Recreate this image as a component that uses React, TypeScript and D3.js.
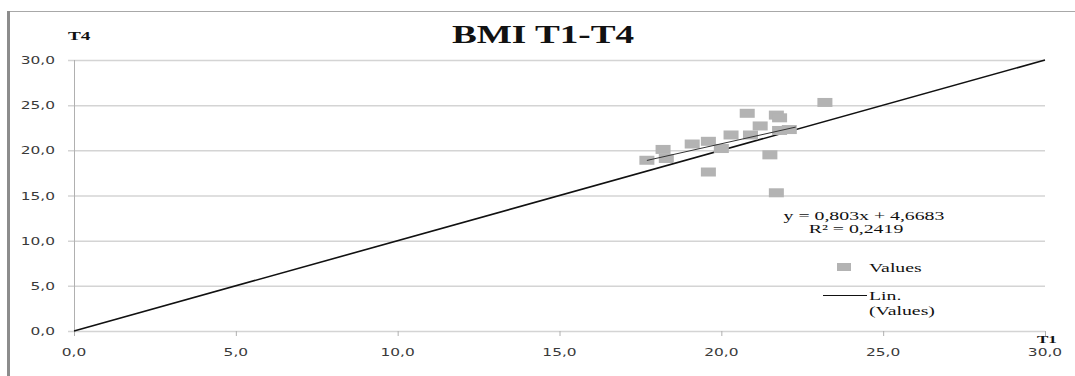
import * as d3 from "d3";

// BMI at T1 (x) and T4 (y)
const t1Values = [17.7, 18.2, 18.3, 19.1, 19.6, 20.0, 20.3, 19.6, 20.8, 21.2, 20.9, 21.7, 21.8, 21.8, 22.1, 21.5, 21.7, 23.2];
const t4Values = [18.9, 20.1, 19.1, 20.7, 21.0, 20.2, 21.7, 17.6, 24.1, 22.7, 21.7, 23.9, 23.6, 22.2, 22.3, 19.5, 15.3, 25.3];

const ticks = [0, 5, 10, 15, 20, 25, 30];
const identityLine = [0, 30];
const trendRange = [17.7, 22.3];
const trendSlope = 0.803;
const trendIntercept = 4.6683;

const title = "BMI T1-T4";
const equationText = "y = 0,803x + 4,6683";
const r2Text = "R² = 0,2419";

const fmt = (v: number) => v.toFixed(1).replace(".", ",");

export default function App() {
  const width = 1075;
  const height = 376;
  const x = d3.scaleLinear().domain([0, 30]).range([74, 1045]);
  const y = d3.scaleLinear().domain([0, 30]).range([331, 60]);

  const line = d3
    .line<number>()
    .x((d) => x(d))
    .y((d) => y(d));

  const trend = d3
    .line<number>()
    .x((d) => x(d))
    .y((d) => y(trendSlope * d + trendIntercept));

  const points = t1Values.map((v, i) => [v, t4Values[i]]);

  const sans = "DejaVu Sans";
  const serif = "Liberation Serif";
  const textColor = "#3a3a3a";

  return (
    <svg
      width={width}
      height={height}
      style={{ position: "absolute", left: 0, top: 0, background: "#fff" }}
    >
      {/* chart frame */}
      <line x1={8} x2={width} y1={11.5} y2={11.5} stroke="#a8a8a8" strokeWidth={1} />
      <line x1={8.5} x2={8.5} y1={11} y2={height} stroke="#8c8c8c" strokeWidth={3} />

      {/* title */}
      <text
        transform={`translate(543,43) scale(1.43,1)`}
        textAnchor="middle"
        fontFamily={serif}
        fontWeight="bold"
        fontSize={26}
        fill="#111"
      >
        {title}
      </text>

      {/* horizontal gridlines + y ticks */}
      {ticks.map((t) => (
        <g key={"gy" + t}>
          <line x1={68} x2={x(30)} y1={y(t) + 0.5} y2={y(t) + 0.5} stroke="#d4d4d4" strokeWidth={1.5} />
          <text
            transform={`translate(55,${y(t) + 4}) scale(1.4,1)`}
            textAnchor="end"
            fontFamily={sans}
            fontSize={11}
            fill={textColor}
          >
            {fmt(t)}
          </text>
        </g>
      ))}

      {/* y axis line */}
      <line x1={x(0) + 0.5} x2={x(0) + 0.5} y1={y(30)} y2={y(0)} stroke="#b0b0b0" strokeWidth={1} />

      {/* x ticks */}
      {ticks.map((t) => (
        <g key={"gx" + t}>
          <line x1={x(t) + 0.5} x2={x(t) + 0.5} y1={y(0)} y2={y(0) + 5} stroke="#b0b0b0" strokeWidth={1} />
          <text
            transform={`translate(${x(t)},356) scale(1.4,1)`}
            textAnchor="middle"
            fontFamily={sans}
            fontSize={11}
            fill={textColor}
          >
            {fmt(t)}
          </text>
        </g>
      ))}

      {/* axis titles */}
      <text transform="translate(68,40) scale(1.6,1)" fontFamily={serif} fontWeight="bold" fontSize={12} fill="#111">
        T4
      </text>
      <text transform="translate(1037,343) scale(1.55,1)" fontFamily={serif} fontWeight="bold" fontSize={11} fill="#111">
        T1
      </text>

      {/* identity line */}
      <path d={line(identityLine) ?? ""} fill="none" stroke="#111" strokeWidth={1.6} />

      {/* data points */}
      {points.map(([px, py], i) => (
        <rect key={i} x={x(px) - 7.5} y={y(py) - 4.5} width={15} height={9} fill="#b3b3b3" />
      ))}

      {/* trendline */}
      <path d={trend(trendRange) ?? ""} fill="none" stroke="#333" strokeWidth={1} />

      {/* equation */}
      <text transform="translate(864,220) scale(1.65,1)" textAnchor="middle" fontFamily={serif} fontSize={12} fill="#111">
        {equationText}
      </text>
      <text transform="translate(856,233) scale(1.65,1)" textAnchor="middle" fontFamily={serif} fontSize={12} fill="#111">
        {r2Text}
      </text>

      {/* legend */}
      <rect x={837} y={263} width={14} height={8} fill="#b3b3b3" />
      <text transform="translate(869,272) scale(1.65,1)" fontFamily={serif} fontSize={12} fill="#111">
        Values
      </text>
      <line x1={823} x2={867} y1={295.5} y2={295.5} stroke="#111" strokeWidth={1} />
      <text transform="translate(869,300) scale(1.65,1)" fontFamily={serif} fontSize={12} fill="#111">
        Lin.
      </text>
      <text transform="translate(869,315) scale(1.65,1)" fontFamily={serif} fontSize={12} fill="#111">
        (Values)
      </text>
    </svg>
  );
}
